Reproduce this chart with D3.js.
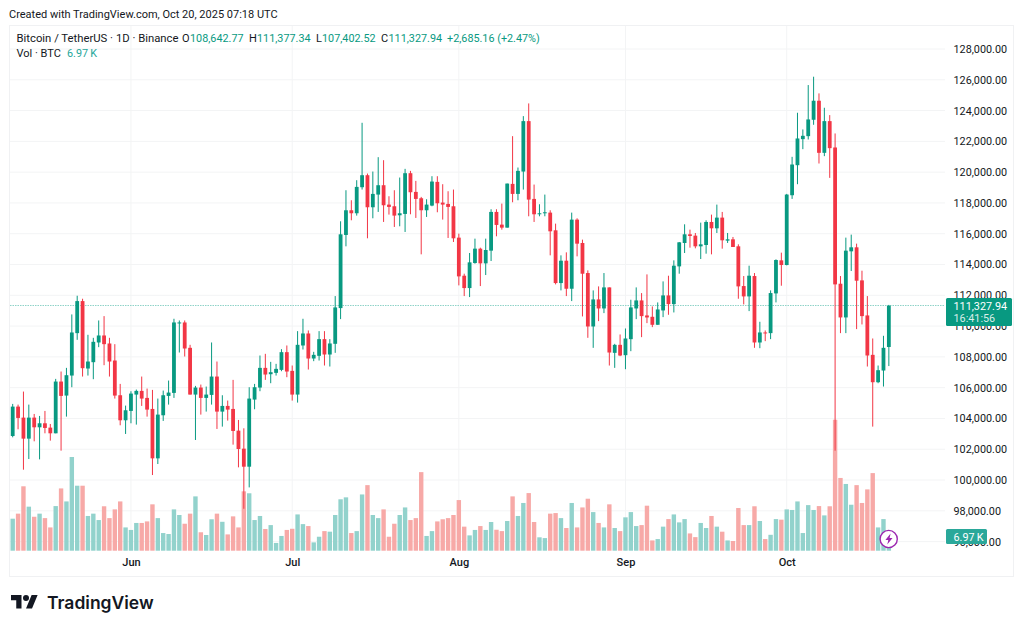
<!DOCTYPE html>
<html>
<head>
<meta charset="utf-8">
<script src="https://cdn.jsdelivr.net/npm/d3@7"></script>
<style>
  html, body { margin: 0; padding: 0; background: #fff; }
  svg { display: block; }
  text { font-family: Roboto, sans-serif; }
</style>
</head>
<body>
<svg id="svg" width="1024" height="630"></svg>
<script>
// daily candles, May 10 -> Oct 20 2025
var opens = [102861,104770,104054,102688,104054,103425,103686,103404,103035,106397,105486,106787,109542,111624,107243,107655,108935,109390,108870,107763,105508,103881,104488,105551,105790,105334,104618,101408,104206,105464,105659,110171,110236,108588,105551,106007,105334,105529,106722,104445,104814,104618,103208,102037,100866,105226,106007,107286,106874,106961,107156,108306,107091,105551,108740,109520,107894,108067,109152,108154,108848,111169,115919,117524,117329,119021,119801,117719,118543,119151,117893,117784,117199,117285,119932,118717,118305,117524,117828,119368,118023,117936,117784,115745,113273,112470,114097,115030,114075,114900,117416,116591,116395,119237,118586,120039,123315,118261,117263,117328,117371,116222,112795,114248,112426,116916,115398,113446,109975,111732,111146,112513,108262,108782,108110,109151,111146,111667,110691,110604,110084,111016,111992,111428,113879,115398,115962,115875,115181,115268,116764,116352,117047,115550,115637,115182,112601,111928,113251,108935,109586,109542,112123,114271,113967,118500,120452,122144,122339,123402,124639,121255,123315,121602,112752,110562,114856,115117,112969,110692,108132,106354,107113,108642.77];
var closes = [104770,104033,102688,104054,103425,103686,103382,103035,106397,105464,106809,109585,111624,107265,107698,108978,109390,108826,107698,105486,103881,104532,105616,105790,105291,104575,101408,104250,105508,105681,110236,110236,108544,105551,106007,105334,105551,106722,104445,104814,104575,103187,102016,100866,105291,106028,107286,106853,107004,107221,108306,107048,105551,108783,109520,107894,108132,109152,108154,108870,111212,115962,117524,117329,119042,119801,117719,118587,119151,117849,117741,117177,117329,119932,118695,118261,117524,117893,119389,117979,117893,117741,115702,113229,112470,114140,115030,114075,114943,117416,116570,116395,119258,118586,120083,123315,118217,117263,117328,117393,116157,112795,114248,112426,116916,115354,113402,109975,111732,111146,112513,108283,108782,108088,109194,111212,111667,110648,110561,110084,111081,111992,111428,113923,115441,115962,115853,115181,115311,116764,116352,117046,115572,115637,115138,112579,111928,113273,108935,109586,109542,112145,114292,113967,118544,120496,122188,122361,123424,124639,121255,123315,121559,112709,110562,114900,115117,112948,110648,108089,106354,107135,108588,111327.94];
var highs = [104944,104900,105746,104900,104293,104163,104488,103642,106570,107048,107286,110757,111971,111776,109434,109238,110366,110648,109238,108826,106245,104835,105768,105876,106722,105941,105855,105291,105811,106462,110475,110366,110366,108783,106115,106202,106072,108935,107698,105508,105161,106505,103903,103360,106028,106245,108089,108197,107677,107547,108501,108740,107438,109672,110475,109716,108327,109672,109672,109152,111950,116808,118825,118175,119476,123207,119910,120040,120973,120777,118435,118825,119650,120214,120083,119433,118392,118240,119736,119736,119216,118760,118869,116006,113403,114748,115680,115095,115680,117589,117589,117957,119258,122338,120300,123640,124464,119193,117914,118543,117523,116656,114595,114790,117371,117003,115615,113619,112318,112578,113446,112513,108847,109455,109845,111710,112513,112144,113359,111277,111537,112903,113272,114270,115463,116612,116265,116048,116721,116873,117241,117892,117416,116049,115789,115312,113251,113924,113446,110280,109716,112319,114336,114770,118587,120995,123858,122773,125658,126200,125116,124183,123706,122513,113251,115746,115941,115355,113598,111950,109195,107438,109369,111377.34];
var lows = [102775,103295,100671,101365,102514,101343,103035,102558,103035,101907,104119,106028,109108,106722,106787,106549,108631,107460,106722,105291,103556,102992,103686,103599,104814,104119,100324,101039,103838,104900,105334,108284,108024,105551,102601,104250,104445,104900,103317,103469,103859,102298,100823,98133,99521,104597,105768,106505,106289,106787,107069,106679,105160,105030,108479,107178,107720,107763,107438,107373,108262,110453,115181,116873,117177,118869,115702,117003,117416,116765,117242,116439,116483,116114,117264,117025,114661,117090,117784,117394,116917,115724,115463,112644,111950,111885,114054,112600,113316,114227,115832,116265,116395,118044,118174,118868,117133,116764,117133,117133,114595,112708,112318,111949,111624,114530,110626,109238,108587,110322,110843,107437,107286,108045,107199,108370,110452,109281,110192,109932,110084,110582,110734,110886,113402,114747,115094,115051,114357,114704,114660,116048,115030,115399,115138,111776,111408,110974,108588,108566,109022,109152,111538,112622,113945,118262,119216,121493,122122,123077,120561,121038,119628,101907,109542,109542,113577,109803,110106,107373,103469,106289,106072,107402.52];
// volume in thousands of BTC
var vols = [16.5,19.1,33.2,22.7,17.5,19.1,16.8,12.0,23.0,32.1,25.4,48.3,33.5,33.5,17.9,19.1,15.8,22.9,16.8,21.3,25.4,12.0,10.7,14.3,14.3,15.1,23.9,16.8,9.1,8.6,21.3,18.4,13.9,19.1,28.0,9.5,8.1,16.2,19.1,14.9,8.4,17.7,12.0,30.6,29.6,15.8,17.9,11.2,13.2,4.0,7.6,10.7,11.3,18.7,13.7,12.7,4.3,7.2,10.1,9.8,18.4,26.5,27.5,9.1,10.1,29.0,33.8,18.4,16.8,21.3,7.2,13.9,18.4,22.3,15.8,16.8,40.5,7.6,10.1,15.1,16.2,16.8,18.4,26.1,12.4,7.9,10.7,12.7,10.7,14.8,10.8,10.1,15.3,28.0,17.9,24.6,29.7,14.8,6.9,6.5,19.1,19.4,16.8,11.7,24.6,12.0,22.3,26.8,19.9,14.3,12.0,23.9,11.7,10.1,17.2,19.9,12.7,13.2,23.2,5.3,6.0,12.4,16.3,18.7,14.6,16.3,8.9,7.0,14.3,11.7,17.9,12.4,9.8,5.3,5.0,22.0,13.2,13.2,22.9,15.3,6.0,8.2,16.3,16.0,21.3,21.0,25.4,9.1,23.5,21.0,23.0,18.2,22.9,67.5,37.5,34.4,23.7,33.8,24.6,31.6,40.0,12.0,16.3,6.97];

var months = ["Jun","Jul","Aug","Sep","Oct"];
var monthIdx = [22,52,83,114,144]; // candle index of the 1st of each month
var priceTicks = [128000,126000,124000,122000,120000,118000,116000,114000,112000,110000,108000,106000,104000,102000,100000,98000,96000];

var upCol = "#089981", downCol = "#F23645";
var upVol = "#92D2CC", downVol = "#F7A9A7";
var gridCol = "#f3f4f5";
var textCol = "#131722";

var svg = d3.select("#svg");
var fmt = d3.format(",.2f");

var x = d3.scaleLinear().domain([0, 163]).range([12.7, 888.85]);
var y = d3.scaleLinear().domain([96000, 128000]).range([541.6, 49]);
var yVol = d3.scaleLinear().domain([0, 50]).range([550.7, 453.7]);

var paneLeft = 10, paneRight = 945, paneBottom = 551;
var numSize = 10.8;

// outer frame
svg.append("rect")
  .attr("x", 9.5).attr("y", 25.5).attr("width", 1004).attr("height", 551)
  .attr("fill", "none").attr("stroke", "#f0f1f3");

// grid
svg.append("g").selectAll("line").data(priceTicks).join("line")
  .attr("x1", paneLeft).attr("x2", paneRight)
  .attr("y1", d => y(d)).attr("y2", d => y(d))
  .attr("stroke", gridCol);

svg.append("g").selectAll("line").data(monthIdx).join("line")
  .attr("x1", d => x(d)).attr("x2", d => x(d))
  .attr("y1", 26).attr("y2", paneBottom)
  .attr("stroke", gridCol);

// volume
svg.append("g").selectAll("rect").data(vols).join("rect")
  .attr("x", (d, i) => x(i) - 2.2)
  .attr("width", 4.4)
  .attr("y", d => yVol(d))
  .attr("height", d => yVol(0) - yVol(d))
  .attr("fill", (d, i) => closes[i] >= opens[i] ? upVol : downVol);

// last price line
var lastY = Math.floor(y(closes[163])) + 0.5;
svg.append("line")
  .attr("x1", paneLeft).attr("x2", paneRight)
  .attr("y1", lastY).attr("y2", lastY)
  .attr("stroke", "#8fd3c8").attr("stroke-width", 1.2)
  .attr("stroke-dasharray", "1.5,1");

// candles
var candles = svg.append("g").selectAll("g").data(opens).join("g");
candles.append("line")
  .attr("x1", (d, i) => x(i)).attr("x2", (d, i) => x(i))
  .attr("y1", (d, i) => y(highs[i])).attr("y2", (d, i) => y(lows[i]))
  .attr("stroke-width", 1)
  .attr("stroke", (d, i) => closes[i] >= opens[i] ? upCol : downCol);
candles.append("rect")
  .attr("x", (d, i) => x(i) - 1.9)
  .attr("width", 3.8)
  .attr("y", (d, i) => y(Math.max(opens[i], closes[i])))
  .attr("height", (d, i) => Math.max(1, Math.abs(y(opens[i]) - y(closes[i]))))
  .attr("fill", (d, i) => closes[i] >= opens[i] ? upCol : downCol);

// price axis
var yAxis = d3.axisRight(y).tickValues(priceTicks).tickFormat(fmt).tickSize(0).tickPadding(0);
var yg = svg.append("g").attr("transform", "translate(953.5,0)").call(yAxis);
yg.select(".domain").remove();
yg.selectAll("text").attr("font-size", numSize).attr("fill", textCol).style("font-family", "Roboto, sans-serif");

// time axis
var xAxis = d3.axisBottom(x).tickValues(monthIdx).tickFormat((d, i) => months[i]).tickSize(0).tickPadding(0);
var xg = svg.append("g").attr("transform", "translate(0,558)").call(xAxis);
xg.select(".domain").remove();
xg.selectAll("text").attr("font-size", 11).attr("fill", textCol).attr("font-weight", 500).style("font-family", "Roboto, sans-serif");

// last price tag
svg.append("rect").attr("x", 946).attr("y", 298).attr("width", 66).attr("height", 28).attr("rx", 1.5).attr("fill", upCol);
svg.append("text").attr("x", 953.5).attr("y", 310).attr("font-size", numSize).attr("fill", "#fff").text(fmt(closes[163]));
svg.append("text").attr("x", 953.5).attr("y", 322).attr("font-size", numSize).attr("fill", "#fff").attr("fill-opacity", 0.85).text("16:41:56");

// volume tag
svg.append("rect").attr("x", 946).attr("y", 529).attr("width", 41).attr("height", 15).attr("rx", 1.5).attr("fill", "#2aa89a");
svg.append("text").attr("x", 953.5).attr("y", 540.5).attr("font-size", numSize).attr("fill", "#fff").text("6.97\u2009K");

// header
svg.append("text").attr("x", 9).attr("y", 18).attr("font-size", 11).attr("fill", textCol)
  .text("Created with TradingView.com, Oct 20, 2025 07:18 UTC");

var legendBits = [
  { x: 16.5, t: "Bitcoin / TetherUS · 1D · Binance", c: textCol, s: 11.3 },
  { x: 182, t: "O", c: textCol, s: 11 }, { x: 190, t: "108,642.77", c: upCol, s: numSize },
  { x: 249, t: "H", c: textCol, s: 11 }, { x: 257, t: "111,377.34", c: upCol, s: numSize },
  { x: 316, t: "L", c: textCol, s: 11 }, { x: 322, t: "107,402.52", c: upCol, s: numSize },
  { x: 381, t: "C", c: textCol, s: 11 }, { x: 388.5, t: "111,327.94", c: upCol, s: numSize },
  { x: 447, t: "+2,685.16 (+2.47%)", c: upCol, s: numSize }
];
svg.append("g").selectAll("text").data(legendBits).join("text")
  .attr("x", d => d.x).attr("y", 42).attr("font-size", d => d.s)
  .attr("fill", d => d.c).text(d => d.t);

svg.append("text").attr("x", 16.5).attr("y", 57).attr("font-size", 11).attr("fill", textCol).text("Vol · BTC");
svg.append("text").attr("x", 67).attr("y", 57).attr("font-size", numSize).attr("fill", "#26a69a").text("6.97\u2009K");

// lightning badge
svg.append("circle").attr("cx", 888.7).attr("cy", 539).attr("r", 8.6)
  .attr("fill", "#fff").attr("stroke", "#9c27b0").attr("stroke-width", 1.4);
svg.append("path").attr("d", "M890.6 533.5l-5.2 6.4h2.9l-1 4.6 5.2-6.4h-2.9z").attr("fill", "#9c27b0");

// logo
svg.append("path")
  .attr("transform", "translate(11,589.8) scale(.75)")
  .attr("d", "M14 25H7V14H0V7h14v18zM28 25h-8l7.5-18h8L28 25z")
  .attr("fill", textCol);
svg.append("circle").attr("cx", 11 + 20 * .75).attr("cy", 589.8 + 11 * .75).attr("r", 3).attr("fill", textCol);
svg.append("text").attr("x", 47).attr("y", 609).attr("font-size", 17.5).attr("font-weight", 600)
  .style("font-family", "Inter, sans-serif").attr("fill", textCol).text("TradingView");
</script>
</body>
</html>
